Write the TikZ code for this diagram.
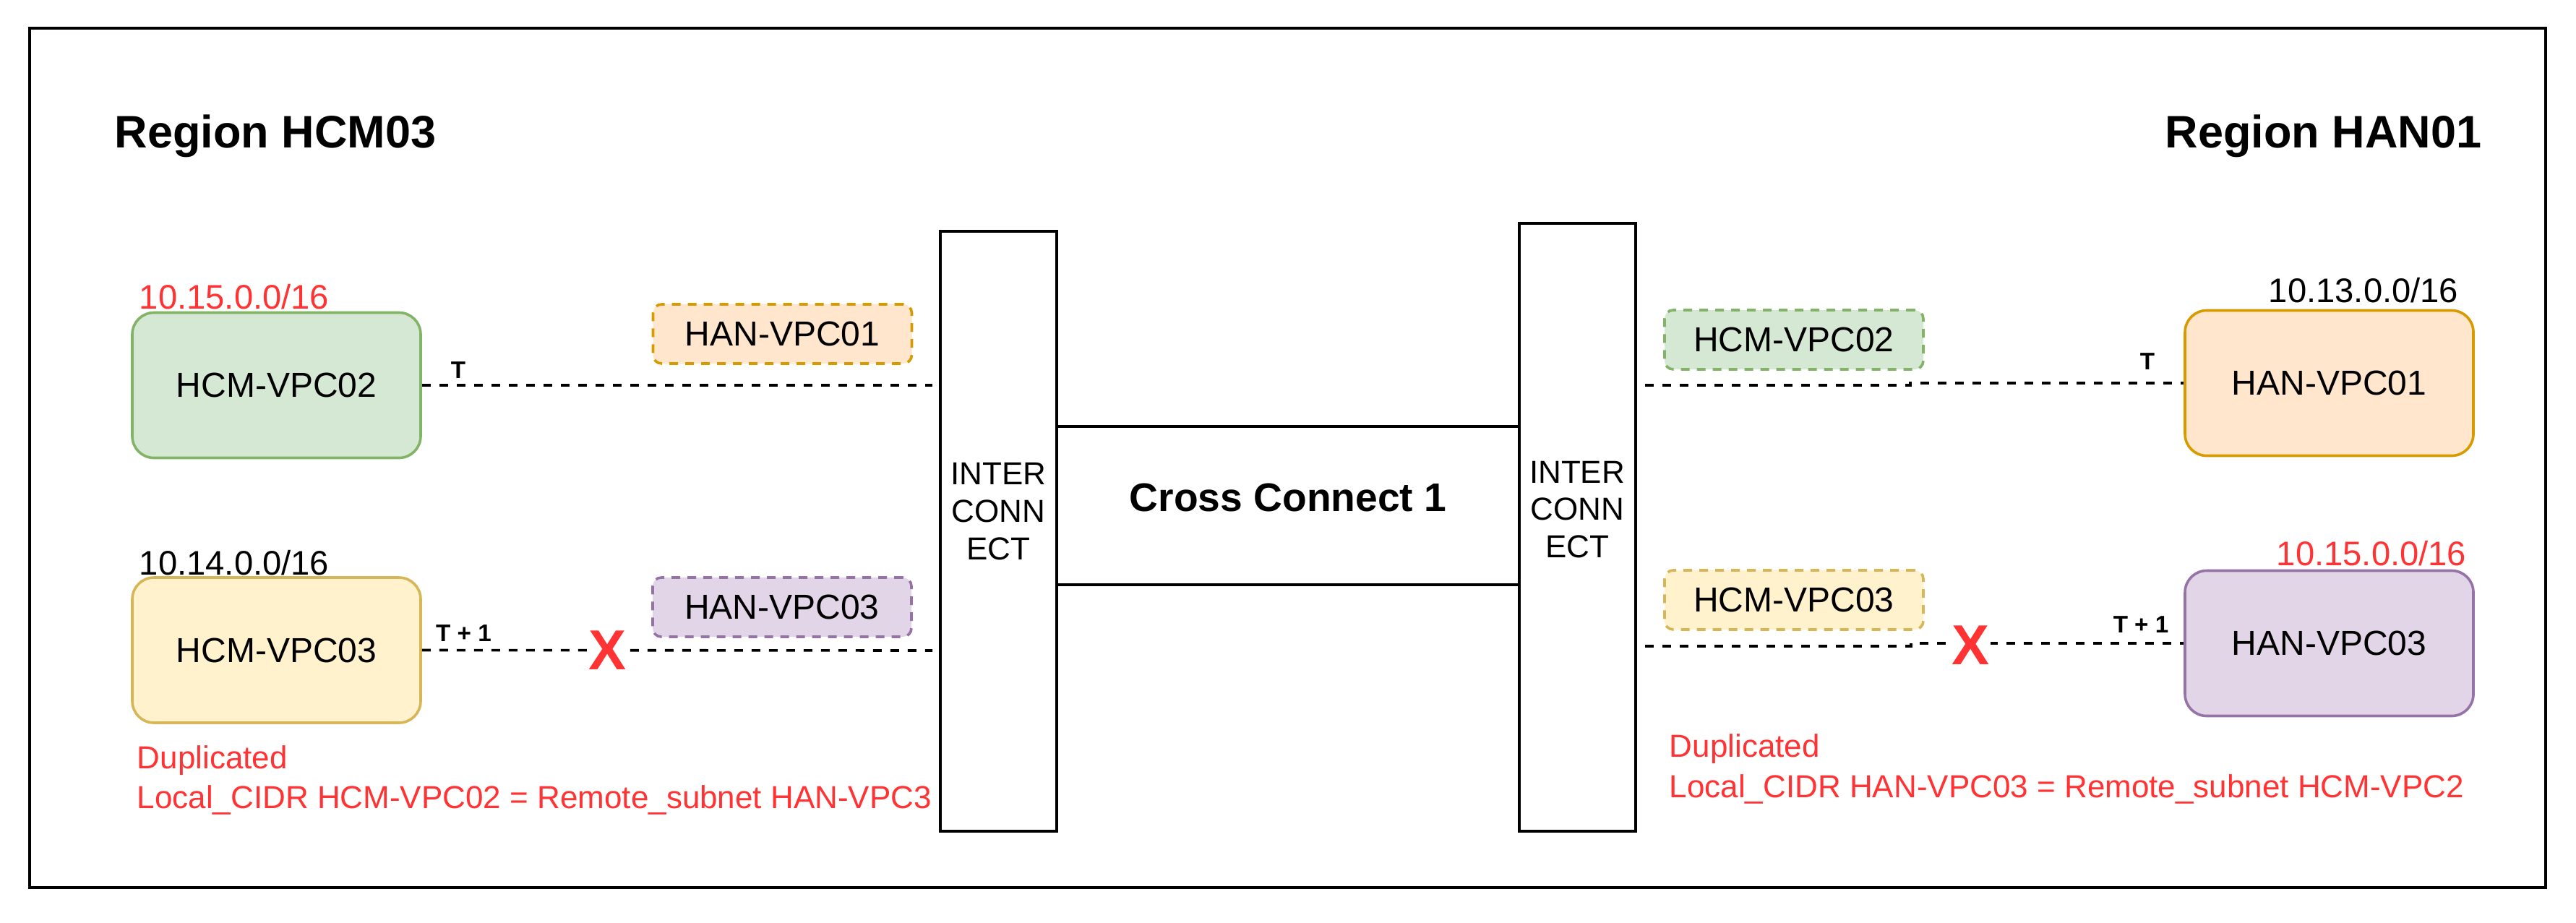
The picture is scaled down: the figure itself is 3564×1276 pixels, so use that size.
\documentclass[tikz,border=0pt]{standalone}
\usepackage{fontspec}
\setmainfont{Liberation Sans}
\definecolor{gfill}{HTML}{D5E8D4}
\definecolor{gline}{HTML}{82B366}
\definecolor{ofill}{HTML}{FFE6CC}
\definecolor{oline}{HTML}{D79B00}
\definecolor{yfill}{HTML}{FFF2CC}
\definecolor{yline}{HTML}{D6B656}
\definecolor{pfill}{HTML}{E1D5E7}
\definecolor{pline}{HTML}{9673A6}
\definecolor{redtxt}{HTML}{FF3333}
\begin{document}
\begin{tikzpicture}[x=0.25pt, y=-0.25pt,
  vpc/.style={draw, line width=0.9pt, rounded corners=7.5pt, minimum width=99.75pt, minimum height=50.25pt, inner sep=0pt, font=\fontsize{12pt}{14.4pt}\selectfont},
  tagbox/.style={draw, line width=0.9pt, dash pattern=on 3pt off 2.5pt, rounded corners=3pt, minimum width=89.5pt, minimum height=20.5pt, inner sep=0pt, font=\fontsize{12pt}{14.4pt}\selectfont},
  icbox/.style={draw, line width=1pt, minimum width=40.25pt, inner sep=0pt},
  ictext/.style={inner sep=0pt, align=center, font=\fontsize{11pt}{12.9pt}\selectfont},
  title/.style={inner sep=0pt, font=\fontsize{15.75pt}{18pt}\selectfont\bfseries},
  iptext/.style={inner sep=0pt, font=\fontsize{11.8pt}{14pt}\selectfont},
  duptext/.style={inner sep=0pt, text=redtxt, font=\fontsize{11pt}{13.75pt}\selectfont},
  tlabel/.style={inner sep=0pt, font=\fontsize{8.3pt}{10pt}\selectfont\bfseries},
  xmark/.style={inner sep=0.6pt, fill=white, text=redtxt, font=\fontsize{19.5pt}{22pt}\selectfont\bfseries},
  conn/.style={line width=0.9pt, dash pattern=on 3pt off 3pt}
]
\useasboundingbox (0,0) rectangle (3564,1276);
\fill[white] (0,0) rectangle (3564,1276);
% outer frame
\draw[line width=1pt] (41,39) rectangle (3522,1228);

% titles
\node[title, anchor=base west] (thcm) at (158,204) {Region HCM03};
\node[title, anchor=base east] (than) at (3434,204) {Region HAN01};

% interconnects and cross connect
\node[icbox, minimum height=207.5pt] (ic1) at (1381.5,735) {};
\node[icbox, minimum height=210.25pt] (ic2) at (2182,729.5) {};
\node[draw, line width=1pt, minimum width=160pt, minimum height=54.75pt, inner sep=0pt] (cc) at (1782,699.5) {};
\node[inner sep=0pt, font=\fontsize{13.8pt}{16pt}\selectfont\bfseries] (cct) at (1782,688) {Cross Connect 1};
\node[ictext] (ic1t) at (1381.5,707.5) {INTER\\CONN\\ECT};
\node[ictext] (ic2t) at (2182,705) {INTER\\CONN\\ECT};

% HCM side
\node[vpc, fill=gfill, draw=gline] (hcm2) at (382.5,533) {HCM-VPC02};
\node[vpc, fill=yfill, draw=yline] (hcm3) at (382.5,899.5) {HCM-VPC03};
\node[iptext, text=redtxt, anchor=base west] (ip1) at (192,427) {10.15.0.0/16};
\node[iptext, anchor=base west] (ip2) at (192,795) {10.14.0.0/16};
\node[tagbox, fill=ofill, draw=oline] (than1) at (1082.5,462) {HAN-VPC01};
\node[tagbox, fill=pfill, draw=pline] (than3) at (1082,840) {HAN-VPC03};

% HAN side
\node[vpc, fill=ofill, draw=oline] (han1) at (3222.5,530) {HAN-VPC01};
\node[vpc, fill=pfill, draw=pline] (han3) at (3222.5,890) {HAN-VPC03};
\node[iptext, anchor=base east] (ip3) at (3402,418) {10.13.0.0/16};
\node[iptext, text=redtxt, anchor=base east] (ip4) at (3413,782) {10.15.0.0/16};
\node[tagbox, fill=gfill, draw=gline] (thcm2) at (2482,470) {HCM-VPC02};
\node[tagbox, fill=yfill, draw=yline] (thcm3) at (2482,830) {HCM-VPC03};

% connectors
\coordinate (l1) at (1290,533);
\coordinate (l2) at (1290,900);
\coordinate (r1) at (2276,533);
\coordinate (j1) at (2643,533);
\coordinate (r2) at (2276,894);
\coordinate (j2) at (2644,894);
\draw[conn] (hcm2.east) -- (l1);
\draw[conn] (hcm3.east) -- (l2);
\draw[conn] (r1) -- (j1) |- (han1.west);
\draw[conn] (r2) -- (j2) |- (han3.west);

% labels on connectors
\node[tlabel, anchor=base] (t1) at (634,523) {T};
\node[tlabel, anchor=base] (t2) at (641.5,887) {T + 1};
\node[tlabel, anchor=base] (t3) at (2971,511) {T};
\node[tlabel, anchor=base] (t4) at (2962,875) {T + 1};
\node[xmark] (x1) at (841,900) {X};
\node[xmark] (x2) at (2726,893) {X};

% duplicated notes
\node[duptext, anchor=base west] (d1a) at (189,1063) {Duplicated};
\node[duptext, anchor=base west] (d1b) at (189,1118) {Local\_CIDR HCM-VPC02 = Remote\_subnet HAN-VPC3};
\node[duptext, anchor=base west] (d2a) at (2309,1047) {Duplicated};
\node[duptext, anchor=base west] (d2b) at (2309,1103) {Local\_CIDR HAN-VPC03 = Remote\_subnet HCM-VPC2};
\end{tikzpicture}
\end{document}
